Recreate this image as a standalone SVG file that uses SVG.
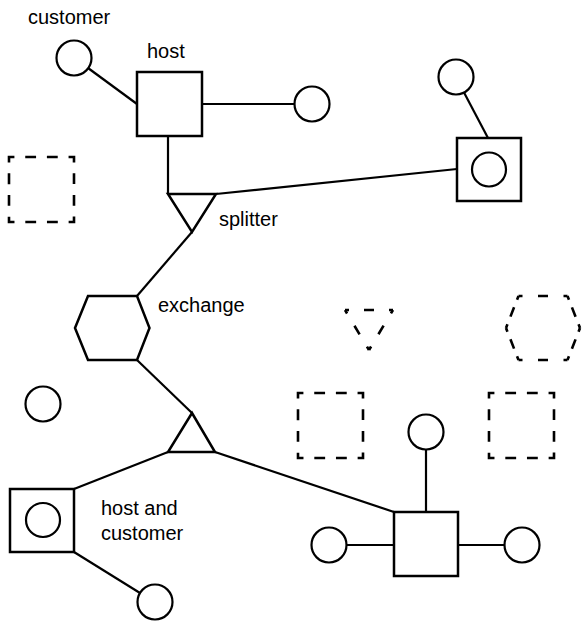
<svg xmlns="http://www.w3.org/2000/svg" width="582" height="621" viewBox="0 0 582 621">
<style>
.s{fill:#fff;stroke:#000;stroke-width:2.5}
.c{fill:#fff;stroke:#000;stroke-width:2.2}
.l{fill:none;stroke:#000;stroke-width:2.2}
.d{fill:none;stroke:#000;stroke-width:2.6;stroke-dasharray:10.83 10.83;stroke-dashoffset:5.42}
.e{fill:none;stroke:#000;stroke-width:2.6}
text{font-family:"Liberation Sans",Arial,sans-serif;font-size:20px;fill:#000}
</style>
<rect width="582" height="621" fill="#fff"/>
<g id="connectors">
<line class="l" x1="88" y1="68" x2="137" y2="104"/>
<line class="l" x1="202" y1="104" x2="294.5" y2="104"/>
<line class="l" x1="168" y1="136" x2="168" y2="194"/>
<line class="l" x1="216" y1="194" x2="457" y2="169"/>
<line class="l" x1="464" y1="92.5" x2="488" y2="138"/>
<line class="l" x1="192" y1="232" x2="137" y2="296"/>
<line class="l" x1="137" y1="360" x2="192" y2="413"/>
<line class="l" x1="168" y1="452" x2="74" y2="489"/>
<line class="l" x1="74" y1="552" x2="140" y2="593"/>
<line class="l" x1="215" y1="452" x2="394" y2="512"/>
<line class="l" x1="426" y1="449.5" x2="426" y2="512"/>
<line class="l" x1="346.5" y1="545" x2="394" y2="545"/>
<line class="l" x1="458" y1="545" x2="504.5" y2="545"/>
</g>
<g id="customer1"><circle class="c" cx="74" cy="58" r="17.5"/><text x="28" y="24">customer</text></g>
<g id="host1"><rect class="s" x="137" y="72" width="65" height="64"/><text x="147" y="58">host</text></g>
<g id="customer2"><circle class="c" cx="312" cy="104" r="17.5"/></g>
<g id="dashedSquare1"><rect class="d" x="9" y="157" width="65" height="65"/></g>
<g id="splitter1"><polygon class="s" points="168,194 216,194 192,232"/><text x="219" y="226">splitter</text></g>
<g id="customer3"><circle class="c" cx="456" cy="77" r="17.5"/></g>
<g id="hostCustomer1"><rect class="s" x="457" y="138" width="64" height="63"/><circle class="c" cx="489" cy="169.5" r="17"/></g>
<g id="exchange"><polygon class="s" points="75,328 88,296 137,296 149.5,328 137,360 88,360"/><text x="158" y="312">exchange</text></g>
<g id="customer4"><circle class="c" cx="43" cy="404" r="17.5"/></g>
<g id="splitter2"><polygon class="s" points="192,413 215,452 168,452"/></g>
<g id="hostCustomer2"><rect class="s" x="10" y="489" width="64" height="63"/><circle class="c" cx="43" cy="520" r="17"/><text x="101" y="515">host and</text><text x="101" y="540">customer</text></g>
<g id="customer5"><circle class="c" cx="155" cy="602" r="17.5"/></g>
<g id="dashedTriangle">
<line class="e" x1="345" y1="310" x2="393" y2="310" stroke-dasharray="4 15 10 15 4"/>
<line class="e" x1="393" y1="310" x2="369" y2="350" stroke-dasharray="4 14.3 10 14.3 4"/>
<line class="e" x1="369" y1="350" x2="345" y2="310" stroke-dasharray="4 14.3 10 14.3 4"/>
</g>
<g id="dashedHexagon">
<line class="e" x1="518.5" y1="296" x2="567.5" y2="296" stroke-dasharray="4 15.5 10 15.5 4"/>
<line class="e" x1="567.5" y1="296" x2="580" y2="328" stroke-dasharray="4 8.2 10 8.2 4"/>
<line class="e" x1="580" y1="328" x2="567.5" y2="360" stroke-dasharray="4 8.2 10 8.2 4"/>
<line class="e" x1="567.5" y1="360" x2="518.5" y2="360" stroke-dasharray="4 15.5 10 15.5 4"/>
<line class="e" x1="518.5" y1="360" x2="506" y2="328" stroke-dasharray="4 8.2 10 8.2 4"/>
<line class="e" x1="506" y1="328" x2="518.5" y2="296" stroke-dasharray="4 8.2 10 8.2 4"/>
</g>
<g id="dashedSquare2"><rect class="d" x="298" y="393" width="65" height="65"/></g>
<g id="dashedSquare3"><rect class="d" x="489" y="393" width="65" height="65"/></g>
<g id="customer6"><circle class="c" cx="426" cy="432" r="17.5"/></g>
<g id="host2"><rect class="s" x="394" y="512" width="64" height="64"/></g>
<g id="customer7"><circle class="c" cx="329" cy="545" r="17.5"/></g>
<g id="customer8"><circle class="c" cx="522" cy="545" r="17.5"/></g>
</svg>
